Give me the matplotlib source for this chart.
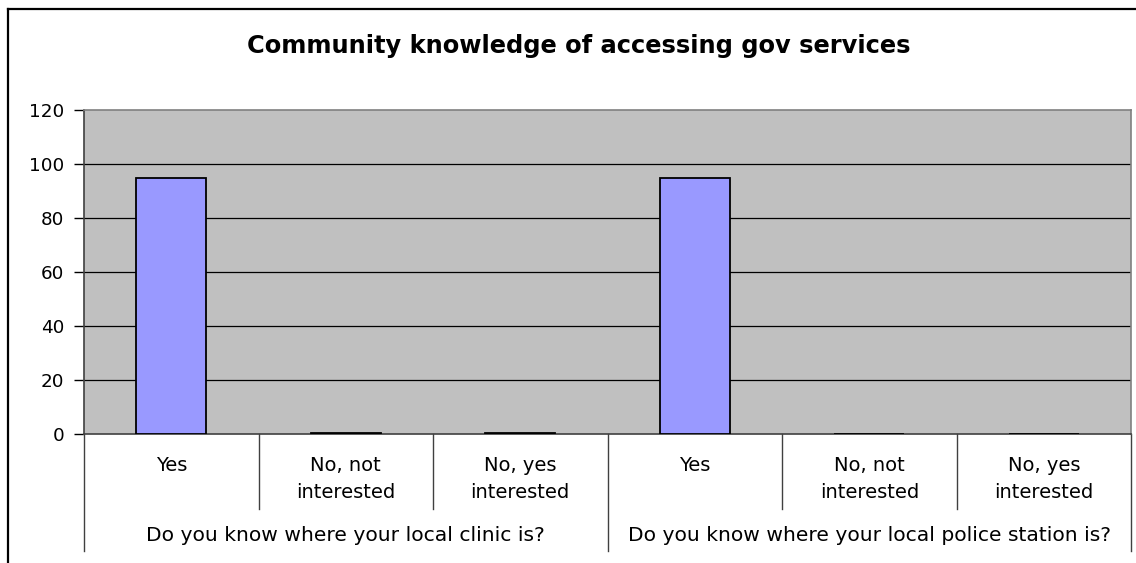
import matplotlib.pyplot as plt
from matplotlib.lines import Line2D

# survey answers, grouped by question
questions = ["Do you know where your local clinic is?",
             "Do you know where your local police station is?"]
answers = ["Yes", "No, not\ninterested", "No, yes\ninterested"]
percent = [95, 0.5, 0.5, 95, 0, 0]

W, H = 1136, 563


def main():
    plt.rcParams['font.family'] = ['DejaVu Sans']
    fig = plt.figure(figsize=(W / 100, H / 100), dpi=100)

    # plot area in pixel coordinates
    left, right, top, bottom = 84, 1131, 110, 434
    ax = fig.add_axes([left / W, 1 - bottom / H, (right - left) / W, (bottom - top) / H])
    ax.set_facecolor("#C0C0C0")

    n = len(percent)
    xs = list(range(n))
    ax.bar(xs, percent, width=0.4, color="#9999FF", edgecolor="black", linewidth=1.3, zorder=3)

    ax.set_xlim(-0.5, n - 0.5)
    ax.set_ylim(0, 120)
    ax.set_yticks(range(0, 121, 20))
    ax.tick_params(axis='y', length=7, width=1, pad=7, labelsize=13.2, colors="black")
    ax.set_xticks([])
    for y in range(20, 101, 20):
        ax.axhline(y, color="black", lw=0.9, zorder=1)

    ax.spines["top"].set_color("#808080")
    ax.spines["right"].set_color("#808080")
    ax.spines["left"].set_color("#404040")
    ax.spines["bottom"].set_color("#404040")
    for s in ax.spines.values():
        s.set_linewidth(1.2)

    # two-level category axis below the plot
    px = 1 / (bottom - top)
    trans = ax.get_xaxis_transform()
    short_y = -(509 - bottom) * px
    long_y = -(551 - bottom) * px
    for i in range(n + 1):
        xpos = i - 0.5
        end = long_y if i % 3 == 0 else short_y
        ax.plot([xpos, xpos], [0, end], color="#404040", lw=1, transform=trans, clip_on=False)

    for i in range(n):
        ax.text(xs[i], -(456 - bottom) * px, answers[i % 3], transform=trans,
                ha="center", va="top", fontsize=14, linespacing=1.5)
    for g, q in enumerate(questions):
        ax.text(g * 3 + 1, -(541 - bottom) * px, q, transform=trans,
                ha="center", va="baseline", fontsize=14.6)

    fig.text(579 / W, 1 - 53 / H, "Community knowledge of accessing gov services",
             ha="center", va="baseline", fontsize=17.4, fontweight="bold")

    # chart frame (cropped on the right and bottom)
    fig.add_artist(Line2D([8 / W, 8 / W], [0, 1 - 9 / H], color="black", lw=1.6))
    fig.add_artist(Line2D([8 / W, 1], [1 - 9 / H, 1 - 9 / H], color="black", lw=1.6))

    fig.savefig("out.png", dpi=100)


if __name__ == '__main__':
    main()
